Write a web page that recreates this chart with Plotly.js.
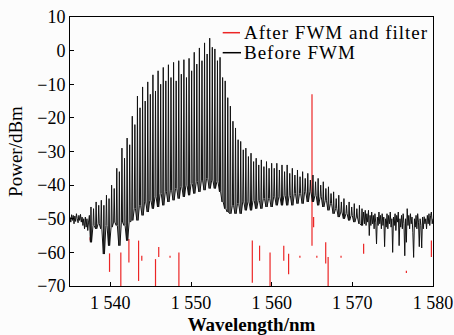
<!DOCTYPE html>
<html>
<head>
<meta charset="utf-8">
<script src="https://cdn.plot.ly/plotly-3.0.1.min.js"></script>
<style>
html,body{margin:0;padding:0;background:#fcfcfc;}
#chart{width:454px;height:335px;}
.annotation-text{letter-spacing:1px;}
</style>
</head>
<body>
<div id="chart"></div>
<script>
// ---------- data ----------
// "Before FWM": noise floor left of the comb
const leftWl  = [1535.0,1535.1,1535.2,1535.3,1535.4,1535.5,1535.6,1535.7,1535.8,1535.9,1536.0,1536.1,1536.2,1536.3,1536.4,1536.5,1536.6,1536.7,1536.8,1536.9,1537.0,1537.1,1537.2,1537.3,1537.4];
const leftPow = [-49.5,-51,-48.8,-50.5,-49,-51.5,-49.2,-50.8,-48.5,-50,-51.2,-49,-50.5,-48.7,-51,-49.5,-52,-50,-53,-49.5,-52.5,-50,-53.5,-51,-49];

// "Before FWM": comb lines (wavelength, peak power, floor power)
const combWl = [1537.60,1537.92,1538.24,1538.56,1538.88,1539.20,1539.52,1539.84,1540.16,1540.48,
1540.80,1541.12,1541.44,1541.76,1542.08,1542.40,1542.72,1543.04,1543.36,1543.68,
1544.00,1544.32,1544.64,1544.96,1545.28,1545.60,1545.92,1546.24,1546.56,1546.88,
1547.20,1547.52,1547.84,1548.16,1548.48,1548.80,1549.12,1549.44,1549.76,1550.08,
1550.40,1550.72,1551.04,1551.36,1551.68,1552.00,1552.32,1552.64,1552.96,1553.28,
1553.60,1553.92,1554.24,1554.56,1554.88,1555.20,1555.52,1555.84,1556.16,1556.48,
1556.80,1557.12,1557.44,1557.76,1558.08,1558.40,1558.72,1559.04,1559.36,1559.68,
1560.00,1560.32,1560.64,1560.96,1561.28,1561.60,1561.92,1562.24,1562.56,1562.88,
1563.20,1563.52,1563.84,1564.16,1564.48,1564.80,1565.12,1565.44,1565.76,1566.08,
1566.40,1566.72,1567.04,1567.36,1567.68,1568.00,1568.32,1568.64,1568.96,1569.28,
1569.60,1569.92,1570.24,1570.56,1570.88,1571.20];
const combPeak = [-46.5,-47,-45,-46,-44.5,-46,-43,-44,-40,-41,
-35,-36,-29,-32,-26,-28,-19.5,-22,-13.5,-17,
-10.8,-15,-9.3,-13,-7.2,-12,-6,-10,-5,-9,
-4.2,-8,-3.5,-9,-3,-7,-2.7,-8,-2.3,-6,
-0.5,-4,0.8,-3,2.3,-1,3.7,1,0.5,-3,
-2,-8,-9,-14,-16.5,-21,-23,-26.5,-27,-29.5,
-29,-31.5,-30.5,-33,-32,-34,-32.5,-34.5,-33,-35,
-33.5,-35,-33.5,-35.5,-34,-36,-34,-36.5,-35,-37,
-35.5,-37.5,-36,-38,-36.5,-38.5,-37,-39,-38,-40,
-39,-41,-40.5,-42.5,-42,-44,-43,-45,-44,-46,
-45,-46.5,-45.5,-47,-46,-47];
const combValley = [-57,-52,-53,-51.5,-53,-60.5,-52,-58,-52.5,-51,
-52,-58,-51,-52,-56.5,-51,-50.5,-47,-50.5,-46,
-49,-45,-48,-44.5,-47,-43.5,-46.5,-42.5,-46,-42,
-45,-41.5,-44.5,-41,-44,-40.5,-43.5,-40,-43,-39.5,
-42.5,-39,-42,-38.5,-41.5,-38,-41,-38.5,-41,-39,
-42,-45,-47,-48,-48.5,-46,-48.5,-45.5,-48.5,-45,
-47.5,-45,-47.5,-44.5,-47,-44.5,-47,-44,-46.5,-44,
-46.5,-43.5,-46,-43.5,-46,-43,-46,-43,-46,-42.5,
-45.5,-42.5,-45.5,-42,-45,-42,-45,-43,-46,-43.5,
-46.5,-44.5,-47.5,-45.5,-48.5,-47,-49.5,-48,-50,-48.5,
-50.5,-49,-51,-49.5,-51.5,-52];

// "Before FWM": noise floor right of the comb
const rightWl = [1571.4,1571.5,1571.6,1571.7,1571.8,1571.9,1572.0,1572.1,1572.2,1572.3,
1572.4,1572.5,1572.6,1572.7,1572.8,1572.9,1573.0,1573.1,1573.2,1573.3,
1573.4,1573.5,1573.6,1573.7,1573.8,1573.9,1574.0,1574.1,1574.2,1574.3,
1574.4,1574.5,1574.6,1574.7,1574.8,1574.9,1575.0,1575.1,1575.2,1575.3,
1575.4,1575.5,1575.6,1575.7,1575.8,1575.9,1576.0,1576.1,1576.2,1576.3,
1576.4,1576.5,1576.6,1576.7,1576.8,1576.9,1577.0,1577.1,1577.2,1577.3,
1577.4,1577.5,1577.6,1577.7,1577.8,1577.9,1578.0,1578.1,1578.2,1578.3,
1578.4,1578.5,1578.6,1578.7,1578.8,1578.9,1579.0,1579.1,1579.2,1579.3,
1579.4,1579.5,1579.6,1579.7,1579.8,1579.9,1580.0];
const rightPow = [-48,-51.5,-47.5,-52,-48.5,-51,-47.5,-55,-49,-52,
-48,-51.5,-49,-53,-48.5,-51,-57.5,-49.5,-52,-48,
-51.5,-49,-53,-48.5,-52,-49.5,-58.3,-50,-52.5,-48.5,
-53,-49,-51.5,-48,-52.5,-50,-60,-49.5,-52,-48.5,
-53.5,-49,-51,-48,-58,-50,-52.5,-49,-53,-48.5,
-51.5,-61,-50,-57,-47,-52,-49,-53,-48.5,-51.5,
-49.5,-54,-61.5,-50,-52.5,-49,-53,-48.5,-51,-58.3,
-50,-52,-58.7,-49.5,-53,-49.4,-51.5,-50,-53,-49,
-51.5,-48.5,-52,-49,-48,-51.5,-50];

// "After FWM and filter": visible red segments (wavelength, upper, lower power)
const redWl     = [1537.5,1539.9,1541.3,1542.3,1543.5,1543.9,1545.6,1546.0,1547.4,1548.5,
1557.6,1558.5,1559.8,1561.5,1562.1,1563.5,1565.0,1565.2,1565.6,1566.7,1567.0,1568.6,1571.4,1576.7,1579.8];
const redTop    = [-55.5,-60.3,-60,-56,-56.5,-61,-62,-58.4,-61,-60,
-56.5,-58,-60,-58,-60.4,-61,-13,-49.5,-61,-57,-61.4,-61,-57.4,-65.5,-56.5];
const redBottom = [-56.5,-65.8,-75,-63,-68.5,-62.5,-75,-61.4,-61.6,-75,
-69,-62.5,-75,-62.5,-66.5,-61.6,-58,-52.5,-61.6,-63.3,-75,-61.6,-60.4,-66.1,-61.4];

const xTickVals = [1540,1550,1560,1570,1580];
const xTickText = ['1 540','1 550','1 560','1 570','1 580'];
const yTickVals = [10,0,-10,-20,-30,-40,-50,-60,-70];
const yTickText = ['10','0','\u221210','\u221220','\u221230','\u221240','\u221250','\u221260','\u221270'];

// ---------- build traces ----------
const bx = [], by = [];
leftWl.forEach((w,i)=>{bx.push(w); by.push(leftPow[i]);});
combWl.forEach((w,i)=>{
  bx.push(w-0.07, w, w+0.07);
  by.push(combValley[i], combPeak[i], combValley[i]);
});
rightWl.forEach((w,i)=>{bx.push(w); by.push(rightPow[i]);});

const rx = [], ry = [];
redWl.forEach((w,i)=>{
  rx.push(w, w, null);
  ry.push(redTop[i], redBottom[i], null);
});

const RED = 'rgb(236,38,38)';
const serif = 'Liberation Serif, Times New Roman, serif';

const traces = [
  {x: rx, y: ry, type: 'scatter', mode: 'lines', name: 'After FWM and filter',
   line: {color: RED, width: 1.2, simplify: false}, connectgaps: false, showlegend: false},
  {x: bx, y: by, type: 'scatter', mode: 'lines', name: 'Before FWM',
   line: {color: '#111', width: 1, simplify: false}, showlegend: false}
];

const L = 70, R = 433, T = 17, B = 286;
const px = v => (v - L) / (R - L);
const py = v => (B - v) / (B - T);

const layout = {
  width: 454, height: 335,
  margin: {l: L, r: 454 - R, t: T, b: 335 - B},
  paper_bgcolor: '#fcfcfc', plot_bgcolor: '#fcfcfc',
  showlegend: false,
  font: {family: serif, color: 'black', size: 18},
  xaxis: {
    range: [1535, 1580], tickvals: xTickVals, ticktext: xTickText,
    ticks: 'inside', ticklen: 4, tickcolor: 'black',
    showline: true, linecolor: 'black', linewidth: 1, mirror: true,
    showgrid: false, zeroline: false,
    tickfont: {family: serif, size: 18, color: 'black'},
    title: {text: '<b>Wavelength/nm</b>', font: {family: serif, size: 19, color: 'black'}}
  },
  yaxis: {
    range: [-70, 10], tickvals: yTickVals, ticktext: yTickText,
    ticks: 'inside', ticklen: 4, tickcolor: 'black',
    showline: true, linecolor: 'black', linewidth: 1, mirror: true,
    showgrid: false, zeroline: false,
    tickfont: {family: serif, size: 18, color: 'black'},
    title: {text: 'Power/dBm', font: {family: serif, size: 19, color: 'black'}}
  },
  shapes: [
    {type: 'line', xref: 'paper', yref: 'paper', x0: px(222.7), x1: px(240), y0: py(32.7), y1: py(32.7),
     line: {color: RED, width: 1.5}},
    {type: 'line', xref: 'paper', yref: 'paper', x0: px(222.7), x1: px(241), y0: py(52.7), y1: py(52.7),
     line: {color: 'black', width: 1.5}}
  ],
  annotations: [
    {xref: 'paper', yref: 'paper', x: px(242), y: py(32.7), xanchor: 'left', yanchor: 'middle',
     text: 'After FWM and filter', showarrow: false, font: {family: serif, size: 19, color: 'black'}},
    {xref: 'paper', yref: 'paper', x: px(242), y: py(52.7), xanchor: 'left', yanchor: 'middle',
     text: 'Before FWM', showarrow: false, font: {family: serif, size: 19, color: 'black'}}
  ]
};

Plotly.newPlot('chart', traces, layout, {displayModeBar: false, staticPlot: true});
</script>
</body>
</html>
